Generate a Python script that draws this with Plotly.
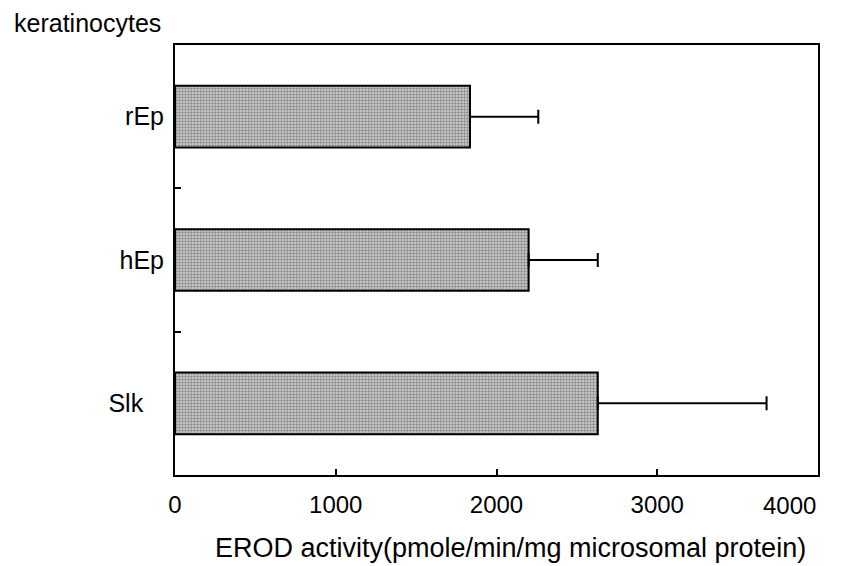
import plotly.graph_objects as go

categories = ["rEp", "hEp", "Slk"]
tick_labels = ["rEp", "hEp", "Slk\u00a0\u00a0\u00a0"]
values = [1835, 2200, 2630]
errors = [425, 430, 1050]
x_ticks = [0, 1000, 2000, 3000, 4000]
x_tick_labels = ["0", "1000", "2000", "3000", ""]

FONT = "Liberation Sans, Arial, sans-serif"

fig = go.Figure()
fig.add_trace(go.Bar(
    y=categories,
    x=values,
    orientation="h",
    width=0.43,
    marker=dict(
        color="#b0b0b0",
        line=dict(color="black", width=2),
        pattern=dict(shape=".", fgcolor="#3c3c3c", bgcolor="#d4d4d4", size=3, solidity=0.5),
    ),
    error_x=dict(type="data", symmetric=False, array=errors, arrayminus=[0, 0, 0],
                 color="black", thickness=2, width=7),
))

fig.update_layout(
    width=850, height=566,
    margin=dict(l=167, r=40, t=37, b=99),
    plot_bgcolor="white", paper_bgcolor="white",
    showlegend=False,
    font=dict(family=FONT, size=24, color="black"),
    xaxis=dict(
        range=[0, 4000], tickvals=x_ticks, ticktext=x_tick_labels,
        ticks="inside", ticklen=6, tickwidth=2, tickcolor="black",
        showline=True, linecolor="black", linewidth=2, mirror=True,
        showgrid=False, zeroline=False,
        ticklabelstandoff=7,
        tickfont=dict(size=24),
    ),
    yaxis=dict(
        type="category", categoryorder="array", categoryarray=categories[::-1],
        tickvals=categories, ticktext=tick_labels,
        range=[-0.5, 2.5],
        ticks="inside", tickson="boundaries", ticklen=6, tickwidth=2, tickcolor="black",
        showline=True, linecolor="black", linewidth=2, mirror=True,
        showgrid=False, zeroline=False,
        ticklabelstandoff=4,
        tickfont=dict(size=25),
    ),
    annotations=[
        dict(text="keratinocytes", xref="paper", yref="paper",
             x=-163/643, y=1 + 22/432, xanchor="left", yanchor="middle",
             showarrow=False, font=dict(size=25)),
        dict(text="4000", xref="paper", yref="paper",
             x=1.0, y=-31/432, xanchor="right", yanchor="middle",
             showarrow=False, font=dict(size=24)),
        dict(text="EROD activity(pmole/min/mg microsomal protein)", xref="paper", yref="paper",
             x=(510 - 175) / 643, y=-73/432, xanchor="center", yanchor="middle",
             showarrow=False, font=dict(size=27)),
    ],
)

fig.write_html("out.html")
